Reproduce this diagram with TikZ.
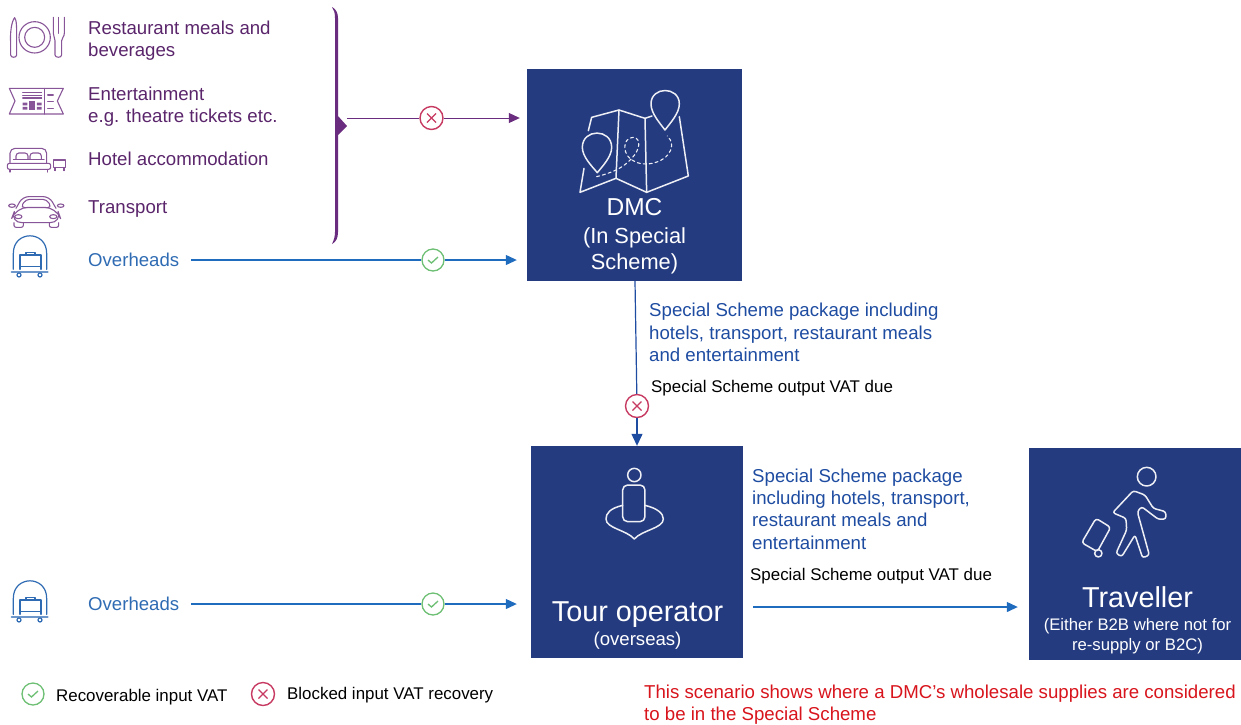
\documentclass[tikz,border=0pt]{standalone}
\usepackage{fontspec}
\setmainfont{Liberation Sans}
\usetikzlibrary{arrows.meta}
\definecolor{boxblue}{HTML}{243B80}
\definecolor{plum}{HTML}{6A2C7E}
\definecolor{linkblue}{HTML}{1F6BBE}
\definecolor{headblue}{HTML}{2F6BB3}
\definecolor{pkgblue}{HTML}{1E4CA1}
\definecolor{okgreen}{HTML}{6CBF73}
\definecolor{nored}{HTML}{C73A62}
\definecolor{notered}{HTML}{D8141C}
\tikzset{
    sized/.style={font=\fontsize{#1}{22.4}\selectfont},
    iconzoom/.style={shift={(#1)},x=0.3333pt,y=-0.3333pt},
    bluebox/.style={fill=boxblue,minimum width=#1,minimum height=212pt,inner sep=0pt},
    boxlabel/.style={text=white,align=center,inner sep=0pt},
    itemlabel/.style={anchor=west,align=left,inner sep=0pt,text=plum!85!black,sized=18.65},
    pkglabel/.style={anchor=west,align=left,inner sep=0pt,text=pkgblue,sized=18.65},
    vatlabel/.style={anchor=west,inner sep=0pt,text=black,sized=16.9},
    headlabel/.style={anchor=west,inner sep=0pt,text=headblue,sized=18.6},
    okmark/.style={circle,draw=okgreen,fill=white,line width=1.3pt,minimum size=22pt,inner sep=0pt,
        path picture={\draw[okgreen,line width=1.3pt]
            ([shift={(-5pt,0pt)}]path picture bounding box.center) --
            ([shift={(-1.5pt,-3pt)}]path picture bounding box.center) --
            ([shift={(5pt,3pt)}]path picture bounding box.center);}},
    nomark/.style={circle,draw=nored,fill=white,line width=1.4pt,minimum size=23pt,inner sep=0pt,
        path picture={\draw[nored,line width=1.1pt]
            ([shift={(-4.5pt,-4.5pt)}]path picture bounding box.center) --
            ([shift={(4.5pt,4.5pt)}]path picture bounding box.center)
            ([shift={(-4.5pt,4.5pt)}]path picture bounding box.center) --
            ([shift={(4.5pt,-4.5pt)}]path picture bounding box.center);}},
    plumlink/.style={plum,line width=1pt,-{Triangle[length=11pt,width=10pt]}},
    bluelink/.style={linkblue,line width=1.2pt,-{Triangle[length=11pt,width=10pt]}},
    darklink/.style={pkgblue,line width=1.2pt,-{Triangle[length=12pt,width=11pt]}},
    plumicon/.style={draw=plum!80!white,line width=1.1pt,line cap=round,line join=round},
    blueicon/.style={draw=headblue,line width=1.2pt,line cap=round,line join=round},
    whiteicon/.style={draw=white!92!boxblue,line width=1.5pt,line cap=round,line join=round}
}
\newcommand{\trolleyicon}[1]{
    \begin{scope}[iconzoom={#1},blueicon]
        \draw (40,808) -- (40,760) .. controls (40,690) and (140,690) .. (140,760) -- (140,808);
        \draw[line width=2.2pt,headblue!70!white] (35,815) -- (143,815);
        \draw (60,808) -- (60,765) -- (123,765) -- (123,808);
        \draw (78,765) -- (78,758) -- (105,758) -- (105,765);
        \draw (60,800) -- (123,800);
        \draw (57,825) circle (6);
        \draw (120,825) circle (6);
    \end{scope}
}
\begin{document}
\begin{tikzpicture}[x=1pt,y=-1pt]
    \useasboundingbox (0,0) rectangle (1241,724);

    % boxes
    \node[bluebox=215pt] (dmc) at (634.5,175) {};
    \node[bluebox=212pt] (tour) at (637,552) {};
    \node[bluebox=212pt] (traveller) at (1135,554) {};

    % box texts
    \node[boxlabel,sized=24.5] (dmcname) at (634.5,207) {DMC};
    \node[boxlabel,sized=21.8] (dmcline1) at (634.5,238) {(In Special};
    \node[boxlabel,sized=21.8] (dmcline2) at (634.5,264) {Scheme)};
    \node[boxlabel,sized=28.8] (tourname) at (637.5,615) {Tour operator};
    \node[boxlabel,sized=18.6] (toursub) at (637.5,641) {(overseas)};
    \node[boxlabel,sized=28.8] (travellername) at (1137.5,597) {Traveller};
    \node[boxlabel,sized=16.7] (travellersub) at (1137.5,636.5) {(Either B2B where not for\\[-2.4pt]re-supply or B2C)};

    % left column
    \node[itemlabel] (meals) at (88,40.5) {Restaurant meals and\\beverages};
    \node[itemlabel] (shows) at (88,106.5) {Entertainment\\e.g. theatre tickets etc.};
    \node[itemlabel] (hotel) at (88,159) {Hotel accommodation};
    \node[itemlabel] (transport) at (88,209.5) {Transport};
    \node[headlabel] (overheads1) at (88,260) {Overheads};
    \node[headlabel] (overheads2) at (88,604) {Overheads};

    % brace
    \fill[plum] (332,7) .. controls (336,9) and (338,13) .. (338,18) -- (338,116)
        -- (347,126) -- (338,135) -- (338,232) .. controls (338,238) and (336,242) .. (332,244)
        .. controls (334,240) and (335,236) .. (335,232) -- (335,18)
        .. controls (335,13) and (334,10) .. (332,7) -- cycle;
    \coordinate (bracetip) at (347,118);

    % marks
    \node[nomark] (markitems) at (431.5,118) {};
    \node[okmark] (markover1) at (433,260) {};
    \node[nomark] (markdmc) at (637,406) {};
    \node[okmark] (markover2) at (433,604) {};

    % connectors
    \draw[plum,line width=1pt] (bracetip) -- (markitems);
    \draw[plumlink,shorten >=7pt] (markitems) -- (markitems -| dmc.west);
    \draw[linkblue,line width=1.2pt] (overheads1.east) ++(12,0) -- (markover1);
    \draw[bluelink,shorten >=10pt] (markover1) -- (markover1 -| dmc.west);
    \draw[pkgblue,line width=1.2pt] ([xshift=0.5pt]dmc.south) -- (markdmc);
    \draw[darklink] (markdmc) -- (tour.north -| markdmc);
    \draw[linkblue,line width=1.2pt] (overheads2.east) ++(12,0) -- (markover2);
    \draw[bluelink,shorten >=14pt] (markover2) -- (markover2 -| tour.west);
    \coordinate (tourout) at (753,607);
    \draw[bluelink,shorten >=11pt] (tourout) -- (tourout -| traveller.west);

    % link texts
    \node[pkglabel] (pkgdmc) at (649,332.5) {Special Scheme package including\\hotels, transport, restaurant meals\\and entertainment};
    \node[vatlabel] (vatdmc) at (651,388.5) {Special Scheme output VAT due};
    \node[pkglabel] (pkgtour) at (752,509) {Special Scheme package\\including hotels, transport,\\restaurant meals and\\entertainment};
    \node[vatlabel] (vattour) at (750,576.5) {Special Scheme output VAT due};

    % legend
    \node[okmark] (legendok) at (33,694) {};
    \node[vatlabel] (legendoktext) at (56,697) {Recoverable input VAT};
    \node[nomark] (legendno) at (263,694) {};
    \node[vatlabel] (legendnotext) at (287,695.5) {Blocked input VAT recovery};
    \node[anchor=west,align=left,inner sep=0pt,text=notered,sized=18.65] (note) at (644,704.5)
        {This scenario shows where a DMC's wholesale supplies are considered\\to be in the Special Scheme};

    % restaurant icon
    \begin{scope}[iconzoom={0,0},plumicon]
        \draw (32,130) .. controls (30,100) and (34,65) .. (44,53) .. controls (50,60) and (50,80) .. (50,120)
            -- (50,165) .. controls (50,174) and (32,174) .. (32,165) -- cycle;
        \draw (104,112) ellipse (47 and 47);
        \draw (104,112) circle (30);
        \draw (160,52) -- (160,100) .. controls (160,112) and (165,112) .. (165,122) -- (165,165)
            .. controls (165,174) and (185,174) .. (185,165) -- (185,122)
            .. controls (185,112) and (193,112) .. (193,100) -- (193,52);
        \draw (176,52) -- (176,100);
    \end{scope}

    % ticket icon
    \begin{scope}[iconzoom={0,0},plumicon]
        \draw (28,265) -- (190,265) -- (172,303) -- (190,342) -- (28,342) -- (45,303) -- cycle;
        \draw (133,265) -- (133,342);
        \foreach \ypos in {278,286,294} {\draw (68,\ypos) -- (125,\ypos);}
        \foreach \ypos in {285,305,325} {\draw (143,\ypos) -- (160,\ypos);}
        \fill[plum!80!white] (68,308) rectangle (82,316) (68,321) rectangle (82,329);
        \fill[plum!80!white] (88,303) rectangle (106,329);
        \fill[plum!80!white] (111,308) rectangle (125,316) (111,321) rectangle (125,329);
    \end{scope}

    % bed icon
    \begin{scope}[iconzoom={0,0},plumicon]
        \draw[rounded corners=5pt] (30,488) -- (30,445) -- (140,445) -- (140,488);
        \draw[rounded corners=3pt] (48,478) -- (48,459) -- (84,459) -- (84,478);
        \draw[rounded corners=3pt] (90,478) -- (90,459) -- (124,459) -- (124,478);
        \draw (40,478) -- (132,478);
        \draw[rounded corners=2pt] (22,490) rectangle (152,508);
        \draw (30,508) -- (30,516) (143,508) -- (143,516);
        \draw (160,502) -- (160,480) -- (197,480) -- (197,502) -- cycle;
        \draw (165,502) -- (165,512) (192,502) -- (192,512);
    \end{scope}

    % car icon
    \begin{scope}[iconzoom={0,0},plumicon]
        \draw[rounded corners=6pt] (48,625) -- (68,590) -- (148,590) -- (168,625);
        \draw[rounded corners=4pt] (62,623) -- (77,598) -- (140,598) -- (155,623) -- cycle;
        \draw[rounded corners=12pt] (48,622) -- (170,622) -- (186,668) -- (30,668) -- cycle;
        \draw[rounded corners=2pt] (42,668) -- (42,682) -- (70,682) -- (70,668);
        \draw[rounded corners=2pt] (148,668) -- (148,682) -- (176,682) -- (176,668);
        \draw (36,617) ellipse (10 and 5);
        \draw (182,617) ellipse (10 and 5);
        \draw (55,650) ellipse (11 and 6);
        \draw (160,650) ellipse (11 and 6);
    \end{scope}

    % trolley icons
    \trolleyicon{0,0}
    \trolleyicon{0,345}

    % map icon
    \begin{scope}[iconzoom={520,60},whiteicon]
        \draw (205,212) -- (215,172) -- (297,150) -- (375,175) -- (396,168);
        \draw (478,170) -- (505,348) -- (380,397) -- (288,355) -- (180,397) -- (192,325);
        \draw (297,150) -- (288,355);
        \draw (375,175) -- (380,397);
        \draw (435,210) .. controls (420,190) and (393,160) .. (393,132)
            .. controls (393,78) and (478,78) .. (478,132) .. controls (478,160) and (450,190) .. (435,210) -- cycle;
        \draw (232,338) .. controls (215,318) and (187,290) .. (187,262)
            .. controls (187,205) and (275,205) .. (275,262) .. controls (275,290) and (248,318) .. (232,338) -- cycle;
        \draw[dashed,line width=1.1pt] (230,350) .. controls (270,340) and (310,325) .. (335,295)
            .. controls (360,270) and (365,235) .. (340,232) .. controls (305,232) and (305,290) .. (345,305)
            .. controls (385,325) and (455,300) .. (455,255) .. controls (455,245) and (450,235) .. (442,228);
    \end{scope}

    % person icon
    \begin{scope}[iconzoom={520,440},whiteicon]
        \draw (343,105) circle (20);
        \draw[rounded corners=5pt] (308,135) rectangle (375,245);
        \draw (308,196) .. controls (270,205) and (258,220) .. (258,237) .. controls (258,265) and (320,270) .. (343,297)
            .. controls (366,270) and (430,265) .. (430,237) .. controls (430,220) and (412,205) .. (375,196);
    \end{scope}

    % traveller icon
    \begin{scope}[iconzoom={1020,440},whiteicon]
        \draw (380,110) circle (28);
        \draw[rounded corners=2.5pt] (340,152) -- (375,165) -- (400,205) -- (437,215) -- (438,237) -- (415,238)
            -- (365,200) -- (352,215) -- (388,345) -- (368,354) -- (345,285) -- (305,350) -- (288,340)
            -- (320,270) -- (318,235) -- (278,218) -- cycle;
        \draw[rounded corners=3pt] (228,235) -- (272,262) -- (232,335) -- (185,308) -- cycle;
        \draw (235,340) circle (11);
    \end{scope}
\end{tikzpicture}
\end{document}
